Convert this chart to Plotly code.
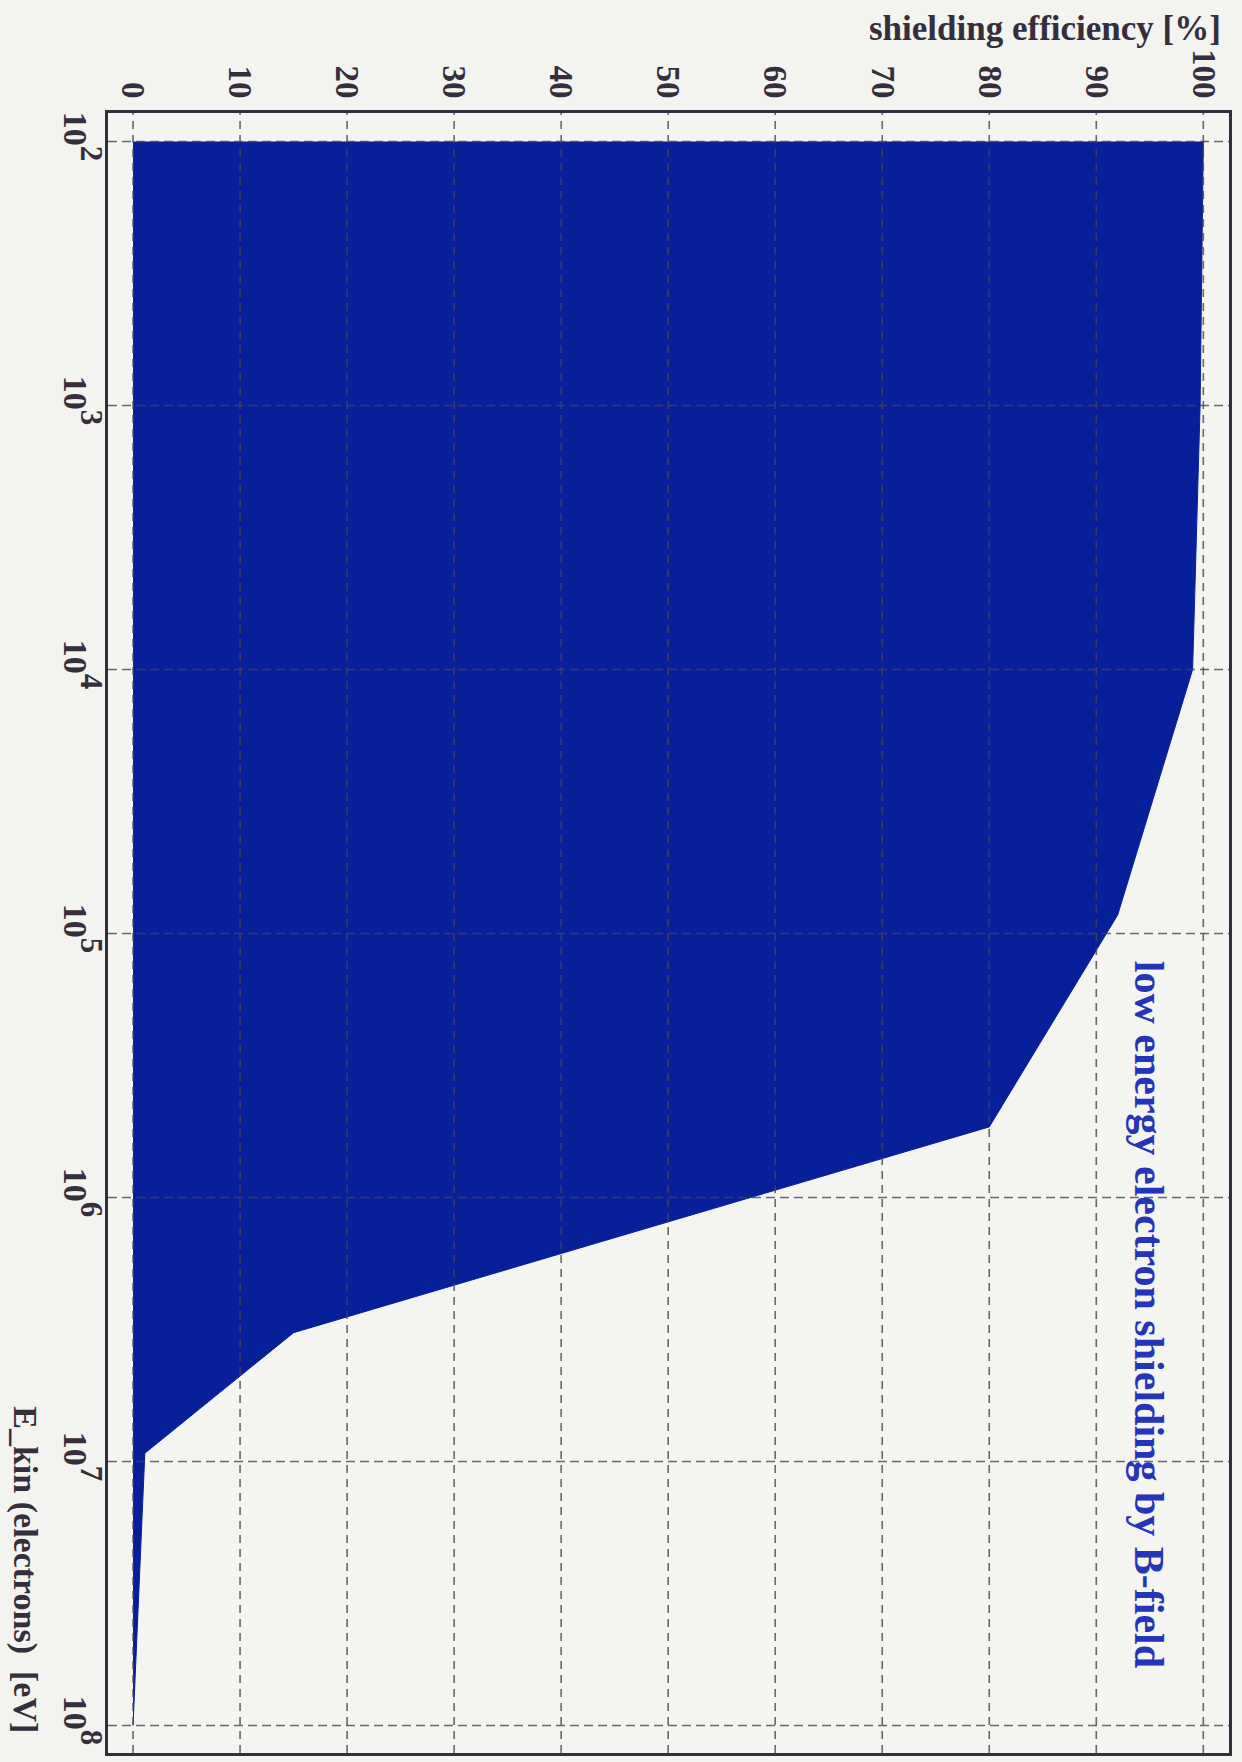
import numpy as np
import plotly.graph_objects as go

# Electron kinetic energy [eV] and the fraction shielded by the B-field [%]
energy_eV = [1e2, 1e3, 1e4, 8.5e4, 5.4e5, 3.25e6, 9.3e6, 1e8]
efficiency_pct = [100.0, 99.7, 99.0, 92.0, 80.0, 15.0, 1.1, 0.0]

# Axis ticks
eff_ticks = [0, 10, 20, 30, 40, 50, 60, 70, 80, 90, 100]
energy_ticks = [1e2, 1e3, 1e4, 1e5, 1e6, 1e7, 1e8]
# decade labels with a nearly full-size raised exponent
energy_ticktext = [
    f"10<span style='font-size:31px;baseline-shift:55%'>{int(round(np.log10(e)))}</span>"
    for e in energy_ticks
]

FILL = "#081f9a"
INK = "#352e3d"
GRID = "rgba(72,66,82,0.8)"
SERIF = "Liberation Serif, Times New Roman, serif"

fig = go.Figure()

fig.add_trace(go.Scatter(
    x=efficiency_pct,
    y=energy_eV,
    mode="lines",
    fill="tozerox",
    fillcolor=FILL,
    line=dict(color=FILL, width=1),
    hoverinfo="x+y",
    showlegend=False,
))

# dashed grid drawn on top of the filled area
shapes = []
for v in eff_ticks:
    shapes.append(dict(type="line", xref="x", yref="paper", x0=v, x1=v, y0=0, y1=1,
                       layer="above", line=dict(color=GRID, width=1.6, dash="8px,6px")))
for e in energy_ticks:
    shapes.append(dict(type="line", xref="paper", yref="y", x0=0, x1=1, y0=e, y1=e,
                       layer="above", line=dict(color=GRID, width=1.6, dash="9px,5px")))

fig.update_layout(
    width=1242,
    height=1762,
    margin=dict(l=108, r=13, t=113, b=6),
    paper_bgcolor="#f3f3ef",
    plot_bgcolor="#f4f4f0",
    shapes=shapes,
    font=dict(family=SERIF, color=INK),
    xaxis=dict(
        range=[-2.34, 102.4],
        side="top",
        tickmode="array",
        tickvals=eff_ticks,
        ticktext=[str(v) for v in eff_ticks],
        tickangle=90,
        tickfont=dict(family=SERIF, size=33, weight="bold", color=INK),
        ticks="",
        showgrid=False,
        zeroline=False,
        showline=True,
        mirror=True,
        linewidth=3,
        linecolor=INK,
    ),
    yaxis=dict(
        type="log",
        range=[8.104, 1.892],
        tickmode="array",
        tickvals=energy_ticks,
        ticktext=energy_ticktext,
        tickangle=90,
        tickfont=dict(family=SERIF, size=34, weight="bold", color=INK),
        ticks="",
        showgrid=False,
        zeroline=False,
        showline=True,
        mirror=True,
        linewidth=3,
        linecolor=INK,
    ),
    annotations=[
        dict(
            text="shielding efficiency [%]",
            xref="paper", yref="paper",
            x=0.9947, y=1.0515,
            xanchor="right", yanchor="middle",
            showarrow=False,
            font=dict(family=SERIF, size=35, weight="bold", color=INK),
        ),
        dict(
            text="E_kin (electrons)  [eV]",
            xref="paper", yref="paper",
            x=-0.074, y=0.112,
            xanchor="center", yanchor="middle",
            textangle=90,
            showarrow=False,
            font=dict(family=SERIF, size=34, weight="bold", color=INK),
        ),
        dict(
            text="low energy electron shielding by B-field",
            xref="x", yref="y",
            x=94.9, y=6.443,
            xanchor="center", yanchor="middle",
            textangle=90,
            showarrow=False,
            font=dict(family=SERIF, size=42, weight="bold", color="#2535b8"),
        ),
    ],
)

fig.write_html("out.html")
